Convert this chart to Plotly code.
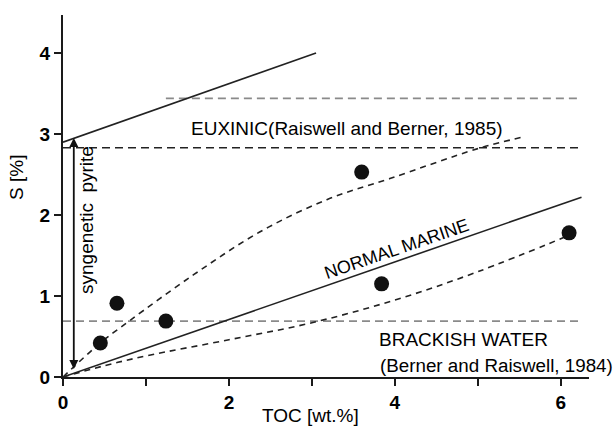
import plotly.graph_objects as go

# ---- data ----
sample_toc = [0.45, 0.65, 1.24, 3.60, 3.84, 6.10]
sample_s = [0.42, 0.91, 0.69, 2.53, 1.15, 1.78]

euxinic_toc = [0.0, 3.05]
euxinic_s = [2.90, 4.00]

normal_marine_toc = [0.0, 6.25]
normal_marine_s = [0.0, 2.22]

upper_curve_toc = [0.0, 0.45, 0.81, 1.57, 2.37, 3.18, 3.94, 5.00, 5.53]
upper_curve_s = [0.0, 0.42, 0.70, 1.26, 1.79, 2.19, 2.45, 2.82, 2.96]

lower_curve_toc = [0.0, 0.50, 1.00, 2.00, 3.00, 4.00, 5.00, 6.10]
lower_curve_s = [0.0, 0.14, 0.26, 0.46, 0.67, 0.95, 1.30, 1.75]

euxinic_upper_toc = [1.24, 6.25]
euxinic_upper_s = [3.44, 3.44]

euxinic_limit_toc = [0.0, 6.25]
euxinic_limit_s = [2.83, 2.83]

brackish_toc = [0.0, 6.25]
brackish_s = [0.69, 0.69]

x_tickvals = [0, 1, 2, 3, 4, 5, 6]
x_ticktext = ["0", "", "2", "", "4", "", "6"]
y_tickvals = [0, 1, 2, 3, 4]
y_ticktext = ["0", "1", "2", "3", "4"]

FONT = "Liberation Sans, Arial, sans-serif"
TXT = "#000000"

fig = go.Figure()

def line(x, y, color, dash="solid", width=1.5, shape="linear"):
    fig.add_trace(go.Scatter(x=x, y=y, mode="lines",
                             line=dict(color=color, dash=dash, width=width, shape=shape),
                             hoverinfo="skip", cliponaxis=False))

line(euxinic_upper_toc, euxinic_upper_s, "#8a8a8a", "8px,5px", 1.6)
line(euxinic_limit_toc, euxinic_limit_s, "#222222", "8px,5px", 1.6)
line(brackish_toc, brackish_s, "#8a8a8a", "8px,5px", 1.6)
line(euxinic_toc, euxinic_s, "#222222", "solid", 1.6)
line(normal_marine_toc, normal_marine_s, "#222222", "solid", 1.6)
line(upper_curve_toc, upper_curve_s, "#222222", "6px,5px", 1.6, "spline")
line(lower_curve_toc, lower_curve_s, "#222222", "6px,5px", 1.6, "spline")

fig.add_trace(go.Scatter(x=sample_toc, y=sample_s, mode="markers",
                         marker=dict(color="#111111", size=15),
                         hoverinfo="skip", cliponaxis=False))

ann = []
def text(x, y, t, size=19, angle=0, xanchor="center", ref="data"):
    xr, yr = ("x", "y") if ref == "data" else ("paper", "paper")
    ann.append(dict(x=x, y=y, xref=xr, yref=yr, text=t, showarrow=False,
                    textangle=angle, xanchor=xanchor, yanchor="middle",
                    font=dict(family=FONT, size=size, color=TXT)))

text(3.42, 3.07, "EUXINIC(Raiswell and Berner, 1985)")
text(4.02, 1.58, "NORMAL MARINE", size=18, angle=-19)
text(3.78, 0.46, "BRACKISH WATER", xanchor="left")
text(3.80, 0.14, "(Berner and Raiswell, 1984)", size=18.8, xanchor="left")
text(0.29, 1.94, "syngenetic\u00a0 pyrite", angle=-90)
text(-0.0875, 0.5525, "S [%]", angle=-90, ref="paper")
text(0.4696, -0.105, "TOC [wt.%]", ref="paper")

# double-headed arrow
ann.append(dict(x=0.13, y=2.95, ax=0.13, ay=0.08, xref="x", yref="y",
                axref="x", ayref="y", text="", showarrow=True,
                arrowhead=2, arrowside="end+start", arrowsize=1,
                arrowwidth=1.8, arrowcolor="#111111"))

fig.update_layout(
    width=614, height=428,
    margin=dict(l=63, r=25, t=15, b=51),
    paper_bgcolor="white", plot_bgcolor="white",
    showlegend=False,
    annotations=ann,
    font=dict(family=FONT, size=19, color=TXT),
)
tickfont = dict(family=FONT, size=19, color=TXT, weight="bold")
fig.update_xaxes(range=[0, 6.34], showgrid=False, zeroline=False,
                 showline=True, linecolor="#1a1a1a", linewidth=2,
                 ticks="outside", ticklen=7, tickwidth=1.5, tickcolor="#1a1a1a",
                 tickvals=x_tickvals, ticktext=x_ticktext, tickfont=tickfont)
fig.update_yaxes(range=[0, 4.47], showgrid=False, zeroline=False,
                 showline=True, linecolor="#1a1a1a", linewidth=2,
                 ticks="outside", ticklen=7, tickwidth=1.5, tickcolor="#1a1a1a",
                 tickvals=y_tickvals, ticktext=y_ticktext, tickfont=tickfont)

fig.write_html("out.html")
